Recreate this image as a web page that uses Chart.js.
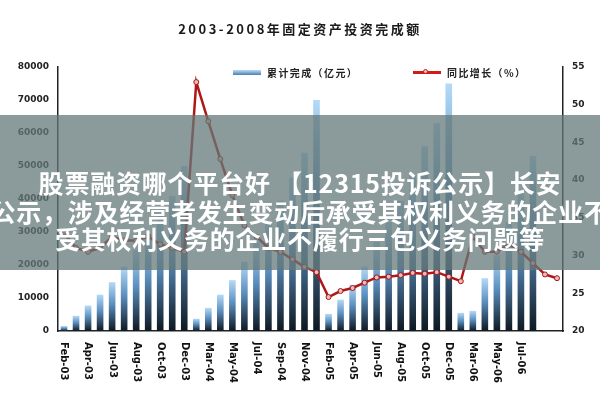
<!DOCTYPE html>
<html>
<head>
<meta charset="utf-8">
<script src="https://cdn.jsdelivr.net/npm/chart.js@4.4.1/dist/chart.umd.min.js"></script>
<style>
  html, body { margin: 0; padding: 0; background: #fff; }
  #wrap { position: relative; width: 600px; height: 400px; overflow: hidden; font-family: "DejaVu Sans", sans-serif; }
  #c { position: absolute; left: 0; top: 0; }
  #title { position: absolute; left: 0; width: 600px; top: 19px; text-align: center; font: bold 13px "Noto Sans CJK SC", sans-serif; letter-spacing: 2.5px; color: #1a1a1a; }
  .leg { position: absolute; top: 65px; font: bold 10px "Noto Sans CJK SC", sans-serif; color: #222; display: flex; align-items: center; letter-spacing: 1.4px; }
  .sw-bar { display: inline-block; width: 28px; height: 5px; background: linear-gradient(#b8dcf8, #4a7fb0); margin-right: 6px; }
  .sw-line { position: relative; display: inline-block; width: 28px; height: 3px; background: #d21a1a; margin-right: 6px; }
  .sw-line i { position: absolute; left: 10px; top: -2px; width: 5px; height: 5px; border-radius: 50%; background: #f4c0c0; border: 1px solid #c02020; box-sizing: border-box; }
  #banner { position: absolute; left: 0; top: 115px; width: 600px; height: 155px; background: rgba(100,120,120,0.75); overflow: hidden; }
  #banner div { position: absolute; left: -60px; width: 720px; text-align: center; white-space: nowrap; color: #fff; font: bold 25px "Noto Sans CJK SC", sans-serif; letter-spacing: 0.8px; }
</style>
</head>
<body>
<div id="wrap">
  <canvas id="c" width="600" height="400"></canvas>
  <div id="title">2003-2008年固定资产投资完成额</div>
  <div class="leg" style="left:233px"><span class="sw-bar"></span>累计完成（亿元）</div>
  <div class="leg" style="left:413px"><span class="sw-line"><i></i></span>同比增长（%）</div>
  <div id="banner">
    <div style="top:49px">股票融资哪个平台好 【12315投诉公示】长安</div>
    <div style="top:78px">公示，涉及经营者发生变动后承受其权利义务的企业不</div>
    <div style="top:105px">受其权利义务的企业不履行三包义务问题等</div>
  </div>
</div>
<script>
const categories = [
  'Feb-03','Mar-03','Apr-03','May-03','Jun-03','Jul-03','Aug-03','Sep-03','Oct-03','Nov-03','Dec-03',
  'Feb-04','Mar-04','Apr-04','May-04','Jun-04','Jul-04','Aug-04','Sep-04','Oct-04','Nov-04','Dec-04',
  'Feb-05','Mar-05','Apr-05','May-05','Jun-05','Jul-05','Aug-05','Sep-05','Oct-05','Nov-05','Dec-05',
  'Feb-06','Mar-06','Apr-06','May-06','Jun-06','Jul-06','Aug-06','Sep-06','Oct-06'
];
const investment = [
  1500, 4600, 7700, 11000, 14800, 19500, 24500, 29500, 35000, 41000, 50000,
  3700, 7000, 11000, 15400, 21000, 27000, 33000, 39500, 46500, 54000, 70000,
  5200, 9500, 14000, 19500, 27000, 33000, 39500, 47000, 56000, 63000, 75000,
  5500, 6100, 16000, 23000, 33000, 42000, 53000, null, null
];
const growth = [
  33.0, 31.0, 30.5, 31.0, 32.5, 32.0, 32.0, 32.5, 31.5, 31.0, 30.5,
  53.0, 47.8, 42.8, 38.0, 34.0, 32.5, 31.0, 30.5, 29.5, 28.5, 27.8,
  24.5, 25.3, 25.7, 26.4, 27.1, 27.2, 27.4, 27.7, 27.6, 27.8, 27.2,
  26.6, 32.5, 30.5, 30.5, 31.5, 30.5, 29.0, 27.5, 27.0
];
const leftTicks = [0, 10000, 20000, 30000, 40000, 50000, 60000, 70000, 80000];
const rightTicks = [20, 25, 30, 35, 40, 45, 50, 55];

function barGradient(ctx) {
  const chart = ctx.chart;
  const ca = chart.chartArea;
  if (!ca || ctx.parsed == null) return '#6fa3d0';
  const y = chart.scales.y;
  const top = y.getPixelForValue(ctx.parsed.y);
  const bottom = y.getPixelForValue(0);
  if (!(bottom > top)) return '#6fa3d0';
  const g = chart.ctx.createLinearGradient(0, top, 0, bottom);
  g.addColorStop(0, '#b4daf7');
  g.addColorStop(0.45, '#5b8fbf');
  g.addColorStop(1, '#0e1822');
  return g;
}

const rotatedLabels = {
  id: 'rotatedLabels',
  afterDraw(chart) {
    const x = chart.scales.x;
    const c = chart.ctx;
    c.save();
    c.fillStyle = '#111';
    c.font = 'bold 10px "DejaVu Sans", sans-serif';
    c.textAlign = 'left';
    c.textBaseline = 'middle';
    categories.forEach((lab, i) => {
      if (i % 2 !== 0 || i >= 40) return;
      const px = x.getPixelForValue(i);
      c.save();
      c.translate(px, chart.chartArea.bottom + 11);
      c.rotate(Math.PI / 2);
      c.fillText(lab, 0, 0);
      c.restore();
    });
    c.restore();
  }
};

new Chart(document.getElementById('c'), {
  data: {
    labels: categories,
    datasets: [
      {
        type: 'line',
        label: '同比增长（%）',
        data: growth,
        yAxisID: 'y1',
        borderColor: '#b01818',
        borderWidth: 2.5,
        pointRadius: 2.5,
        pointBackgroundColor: '#f2b8b8',
        pointBorderColor: '#a01818',
        pointBorderWidth: 1,
        tension: 0,
        order: 0
      },
      {
        type: 'bar',
        label: '累计完成（亿元）',
        data: investment,
        yAxisID: 'y',
        backgroundColor: barGradient,
        barPercentage: 0.55,
        categoryPercentage: 1,
        order: 1
      }
    ]
  },
  options: {
    responsive: false,
    animation: false,
    events: [],
    layout: { padding: { top: 67, right: 0, left: 0, bottom: 0 } },
    plugins: { legend: { display: false }, title: { display: false }, tooltip: { enabled: false } },
    scales: {
      x: {
        grid: { display: false, drawTicks: false },
        border: { display: true, color: '#222', width: 1.5 },
        ticks: { display: false },
        afterFit(s) { s.height = 69; }
      },
      y: {
        position: 'left',
        min: 0, max: 80000,
        afterBuildTicks(s) { s.ticks = leftTicks.map(v => ({ value: v })); },
        grid: { display: false, drawOnChartArea: false, drawTicks: true, tickLength: 3, color: '#222' },
        border: { display: true, color: '#222', width: 1.5 },
        ticks: { color: '#222', font: { size: 9, weight: 'bold', family: '"DejaVu Sans"' }, padding: 6,
                 callback: v => String(v) },
        afterFit(s) { s.width = 58; }
      },
      y1: {
        position: 'right',
        min: 20, max: 55,
        afterBuildTicks(s) { s.ticks = rightTicks.map(v => ({ value: v })); },
        grid: { display: false, drawOnChartArea: false, drawTicks: true, tickLength: 3, color: '#222' },
        border: { display: true, color: '#222', width: 1.5 },
        ticks: { color: '#222', font: { size: 9, weight: 'bold', family: '"DejaVu Sans"' }, padding: 6 },
        afterFit(s) { s.width = 37; }
      }
    }
  },
  plugins: [rotatedLabels]
});
</script>
</body>
</html>
